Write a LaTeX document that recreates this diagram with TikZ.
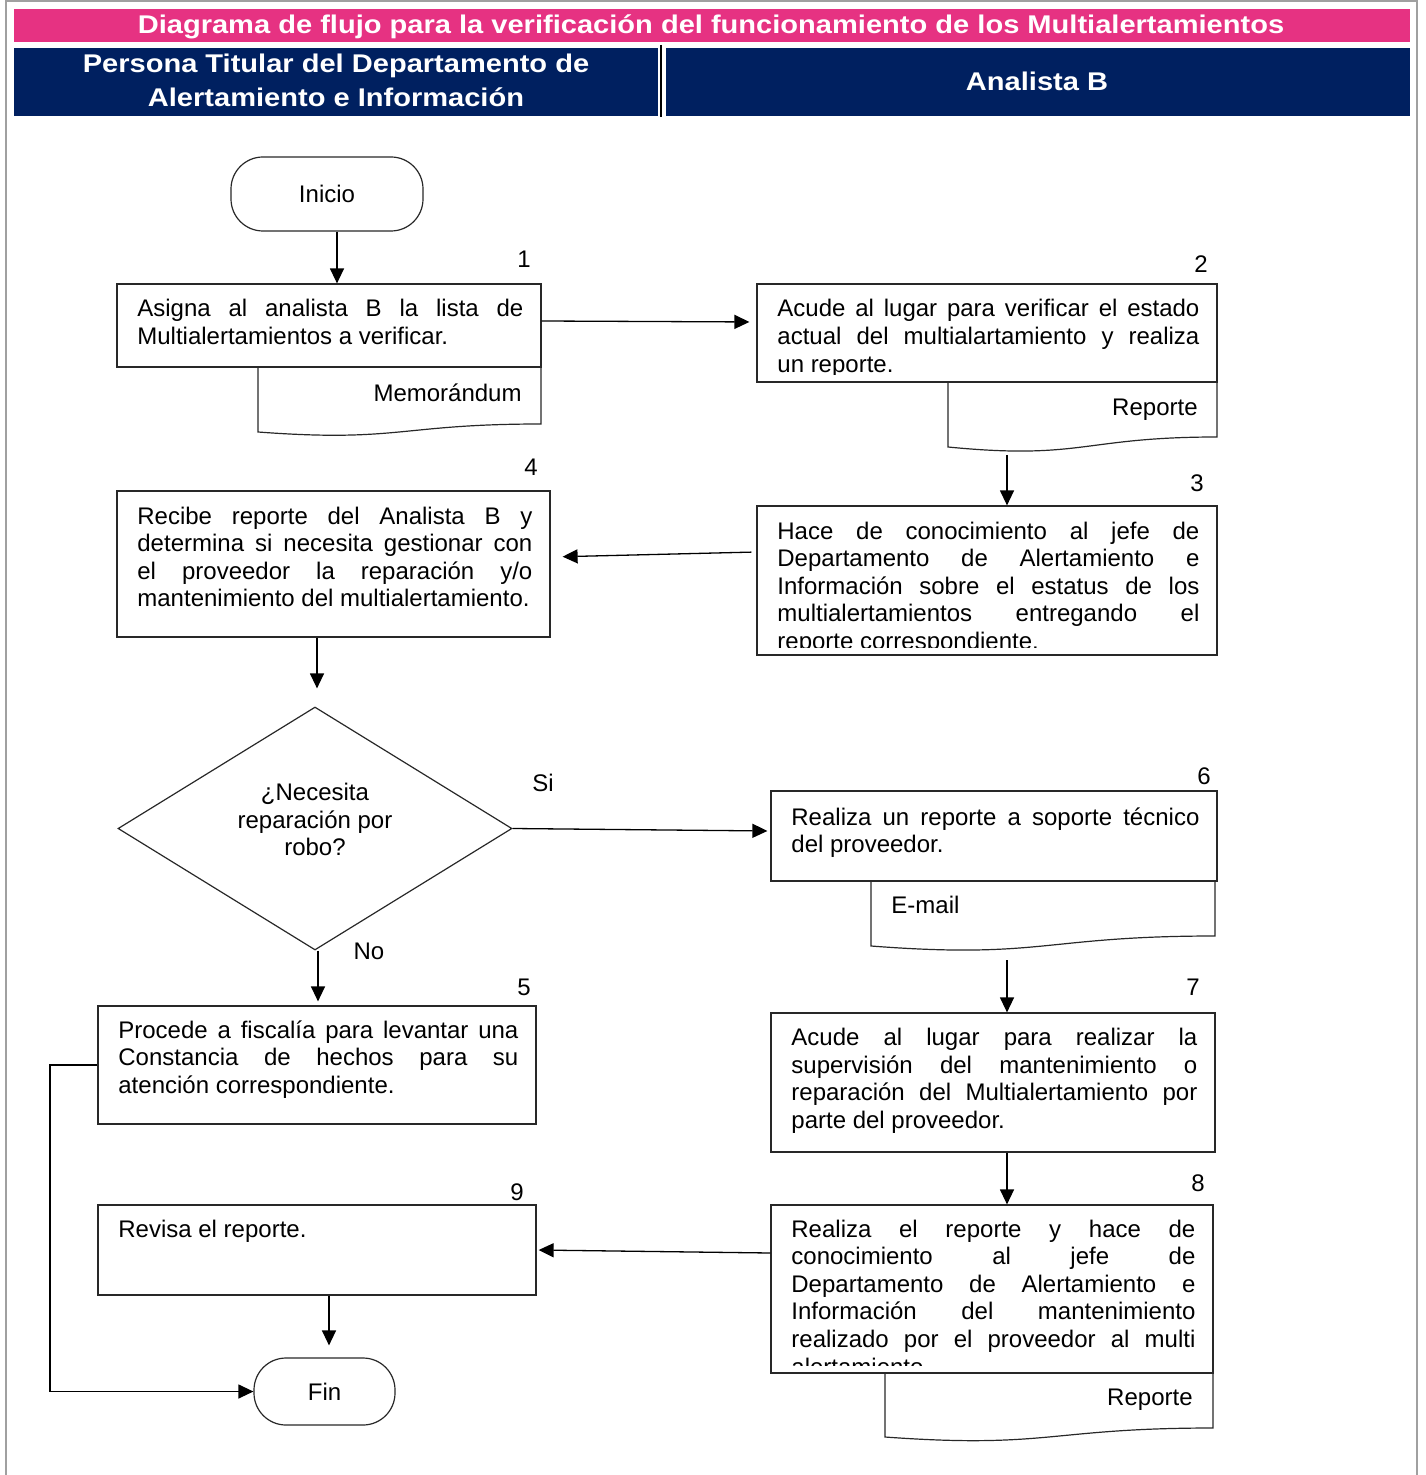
\documentclass[tikz,border=0pt]{standalone}
\usepackage{fontspec}
\usepackage{graphicx}
\setmainfont{Liberation Sans}
\usetikzlibrary{arrows.meta,shapes.geometric,fit}

\definecolor{tituloRosa}{RGB}{230,50,130}
\definecolor{marino}{RGB}{0,32,96}
\definecolor{marco}{RGB}{160,160,160}
\definecolor{trazo}{RGB}{40,40,40}

\hyphenpenalty=10000
\exhyphenpenalty=10000
\tolerance=10000
\hbadness=10000

\newcommand\bodyfont{\fontsize{12pt}{13.8pt}\selectfont}
\newcommand\hdrfont{\fontsize{12.8pt}{15pt}\selectfont\bfseries}
\newcommand\hdrtext[1]{\scalebox{1.135}[1]{#1}}
% document symbol: left x, right x, top y, left bottom y, right bottom y
\newcommand\docsym[5]{%
  \draw[flow] (#1,#3) -- (#1,#4)
    .. controls ({(#1+#2)/2},{#4+1.32*(#4-#5)}) and ({(#1+#2)/2},#5) .. (#2,#5)
    -- (#2,#3);}

\tikzset{
  flow/.style={draw=trazo, line width=0.6pt},
  proc/.style={flow, rectangle, inner sep=0pt},
  term/.style={flow, rectangle, rounded corners=16pt, inner sep=0pt, font=\bodyfont},
  arr/.style={draw=black, line width=0.65pt, -{Triangle[length=7.5pt,width=7pt]}},
  txt/.style={anchor=base west, inner sep=0pt, align=justify, font=\bodyfont},
  lbl/.style={anchor=base, inner sep=0pt, font=\bodyfont},
  hdr/.style={anchor=base, inner sep=0pt, text=white, font=\hdrfont},
  band/.style={inner sep=0pt, rectangle},
}

\begin{document}
\begin{tikzpicture}[x=0.5pt, y=-0.5pt]
\useasboundingbox (0,0) rectangle (1425,1475);

% page frame
\draw[marco, line width=1.25pt] (6,1475) -- (6,1) -- (1417,1) -- (1417,1475);

% title and lane headers
\node[band, fill=tituloRosa, fit={(14,9) (1410,42)}] (titulo) {};
\node[hdr] (tituloTxt) at (711,34) {\hdrtext{Diagrama de flujo para la verificación del funcionamiento de los Multialertamientos}};
\node[band, fill=marino, fit={(14,48) (658,116)}] (carril1) {};
\node[band, fill=marino, fit={(666,48) (1410,116)}] (carril2) {};
\draw[black, line width=1pt] (661,45) -- (661,117);
\node[hdr] (carril1a) at (336,73) {\hdrtext{Persona Titular del Departamento de}};
\node[hdr] (carril1b) at (336,107) {\hdrtext{Alertamiento e Información}};
\node[hdr] (carril2a) at (1037,91) {\hdrtext{Analista B}};

% terminals
\node[term, minimum width=96pt, minimum height=37pt] (ini) at (327,194) {Inicio};
\node[term, minimum width=70.5pt, minimum height=33.5pt] (fin) at (324.5,1391.5) {Fin};

% step 1
\node[proc, fit={(117,284) (541,367)}] (b1) {};
\node[txt, text width=193pt] (t1) at (137,317) {Asigna al analista B la lista de\linebreak Multialertamientos a verificar.};
\node[lbl] (n1) at (524,268) {1};
\docsym{258}{541}{367}{432}{424}
\node[lbl, anchor=base east] (m1) at (522,402) {Memorándum};

% step 2
\node[proc, fit={(757,284) (1217,382)}] (b2) {};
\begin{scope}
  \clip (757,284) rectangle (1217,375);
  \node[txt, text width=211pt] (t2) at (777,317) {Acude al lugar para verificar el estado\linebreak actual del multialartamiento y realiza\linebreak un reporte.};
\end{scope}
\node[lbl] (n2) at (1201,273) {2};
\docsym{948}{1217}{382}{447}{437}
\node[lbl, anchor=base east] (m2) at (1198,416) {Reporte};
\coordinate (d2) at (1007,455);

% step 3
\node[proc, fit={(757,506) (1217,655)}] (b3) {};
\begin{scope}
  \clip (757,506) rectangle (1217,647);
  \node[txt, text width=211pt] (t3) at (777,539) {Hace de conocimiento al jefe de\linebreak Departamento de Alertamiento e\linebreak Información sobre el estatus de los\linebreak multialertamientos entregando el\linebreak reporte correspondiente.};
\end{scope}
\node[lbl] (n3) at (1197,492) {3};

% step 4
\node[proc, fit={(117,491) (550,637)}] (b4) {};
\node[txt, text width=197.5pt] (t4) at (137,524) {Recibe reporte del Analista B y\linebreak determina si necesita gestionar con\linebreak el proveedor la reparación y/o\linebreak mantenimiento del multialertamiento.};
\node[lbl] (n4) at (531,476) {4};

% decision
\node[flow, diamond, inner sep=0pt, minimum width=197pt, minimum height=121.5pt] (dia) at (315,828.5) {};
\node[lbl, anchor=center, align=center] (diaTxt) at (315,819.5) {¿Necesita\\reparación por\\robo?};
\node[lbl] (si) at (543,791) {Si};
\node[lbl] (no) at (369,959) {No};

% step 5
\node[proc, fit={(98,1006) (536,1124)}] (b5) {};
\node[txt, text width=200pt] (t5) at (118,1038) {Procede a fiscalía para levantar una\linebreak Constancia de hechos para su\linebreak atención correspondiente.};
\node[lbl] (n5) at (524,995) {5};

% step 6
\node[proc, fit={(771,791) (1217,881)}] (b6) {};
\node[txt, text width=204pt] (t6) at (791,825) {Realiza un reporte a soporte técnico\linebreak del proveedor.};
\node[lbl] (n6) at (1204,784) {6};
\docsym{871}{1215}{881}{946}{936}
\node[lbl, anchor=base west] (m6) at (891,913) {E-mail};
\coordinate (d6) at (1007,960);

% step 7
\node[proc, fit={(771,1013) (1215,1152)}] (b7) {};
\node[txt, text width=203pt] (t7) at (791,1045.5) {Acude al lugar para realizar la\linebreak supervisión del mantenimiento o\linebreak reparación del Multialertamiento por\linebreak parte del proveedor.};
\node[lbl] (n7) at (1193,995) {7};

% step 8
\node[proc, fit={(771,1205) (1213,1373)}] (b8) {};
\begin{scope}
  \clip (771,1205) rectangle (1213,1365);
  \node[txt, text width=202pt] (t8) at (791,1237) {Realiza el reporte y hace de\linebreak conocimiento al jefe de\linebreak Departamento de Alertamiento e\linebreak Información del mantenimiento\linebreak realizado por el proveedor al multi\linebreak alertamiento};
\end{scope}
\node[lbl] (n8) at (1198,1191) {8};
\docsym{885}{1213}{1373}{1437}{1428}
\node[lbl, anchor=base east] (m8) at (1193,1405) {Reporte};

% step 9
\node[proc, fit={(98,1205) (536,1295)}] (b9) {};
\node[txt, text width=200pt] (t9) at (118,1237) {Revisa el reporte.};
\node[lbl] (n9) at (517,1200) {9};

% connectors
\draw[arr] (ini.south -| 337,0) -- (b1.north -| 337,0);
\draw[arr, shorten >=3.5pt] (b1.east |- 0,321) -- (b2.west |- 0,322);
\draw[arr] (d2) -- (b3.north -| d2);
\draw[arr, shorten <=2.5pt, shorten >=6pt] (b3.west |- 0,552) -- (b4.east |- 0,557);
\draw[arr, shorten >=9pt] (b4.south -| 317,0) -- (dia.north -| 317,0);
\draw[arr, shorten >=1.5pt] (dia.east) -- (b6.west |- 0,831);
\draw[arr, shorten >=2pt] (dia.south -| 318,0) -- (b5.north -| 318,0);
\draw[arr] (d6) -- (b7.north -| d6);
\draw[arr] (b7.south -| 1007,0) -- (b8.north -| 1007,0);
\draw[arr, shorten >=1pt] (b8.west |- 0,1253) -- (b9.east |- 0,1250);
\draw[arr, shorten >=6pt] (b9.south -| 329,0) -- (fin.north -| 329,0);
\coordinate (vuelta) at (50,1391.5);
\draw[arr] (b5.west |- 0,1065) -| (vuelta) -- (fin.west);
\end{tikzpicture}
\end{document}
